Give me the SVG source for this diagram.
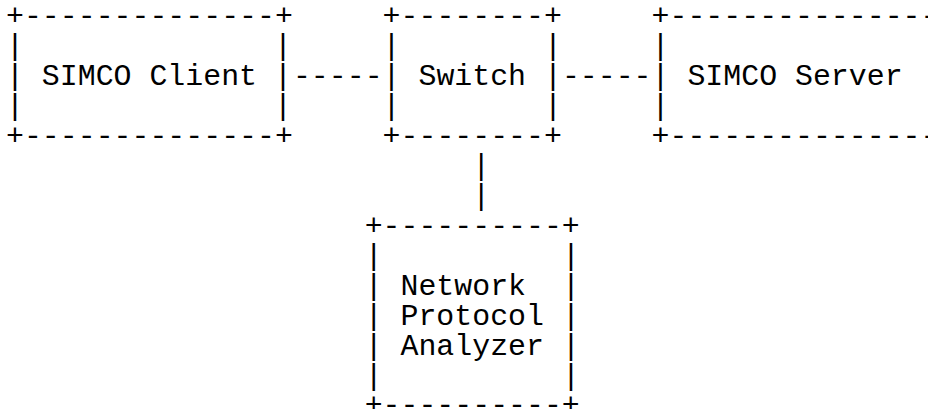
<svg xmlns="http://www.w3.org/2000/svg" width="928" height="409" viewBox="0 0 928 409" xml:space="preserve">
<style>
  text { font-family: "Liberation Mono", "DejaVu Sans Mono", monospace; font-size: 29.89px; fill: #000; white-space: pre; }
</style>
<rect x="0" y="0" width="928" height="409" fill="#fff"/>
<g id="client">
  <text x="6" y="25">+--------------+</text>
  <text x="6" y="55">|</text><text x="274.0" y="55">|</text>
  <text x="6" y="85">|</text><text x="274.0" y="85">|</text>
  <text x="6" y="115">|</text><text x="274.0" y="115">|</text>
  <text x="6" y="145">+--------------+</text>
  <text x="41.87" y="85">SIMCO Client</text>
</g>
<g id="switch">
  <text x="382.6" y="25">+--------+</text>
  <text x="382.6" y="55">|</text><text x="544.0" y="55">|</text>
  <text x="382.6" y="85">|</text><text x="544.0" y="85">|</text>
  <text x="382.6" y="115">|</text><text x="544.0" y="115">|</text>
  <text x="382.6" y="145">+--------+</text>
  <text x="418.46" y="85">Switch</text>
</g>
<g id="server">
  <text x="651.59" y="25">+---------------</text>
  <text x="651.59" y="55">|</text>
  <text x="651.59" y="85">|</text>
  <text x="651.59" y="115">|</text>
  <text x="651.59" y="145">+---------------</text>
  <text x="687.45" y="85">SIMCO Server</text>
</g>
<g id="analyzer">
  <text x="364.67" y="235">+----------+</text>
  <text x="364.67" y="265">|</text><text x="561.92" y="265">|</text>
  <text x="364.67" y="295">|</text><text x="561.92" y="295">|</text>
  <text x="364.67" y="325">|</text><text x="561.92" y="325">|</text>
  <text x="364.67" y="355">|</text><text x="561.92" y="355">|</text>
  <text x="364.67" y="385">|</text><text x="561.92" y="385">|</text>
  <text x="364.67" y="414">+----------+</text>
  <text x="400.53" y="295">Network</text>
  <text x="400.53" y="325">Protocol</text>
  <text x="400.53" y="355">Analyzer</text>
</g>
<g id="connectors">
  <text x="292.93" y="85">-----</text>
  <text x="561.92" y="85">-----</text>
  <text x="472.26" y="175">|</text>
  <text x="472.26" y="205">|</text>
</g>
</svg>
